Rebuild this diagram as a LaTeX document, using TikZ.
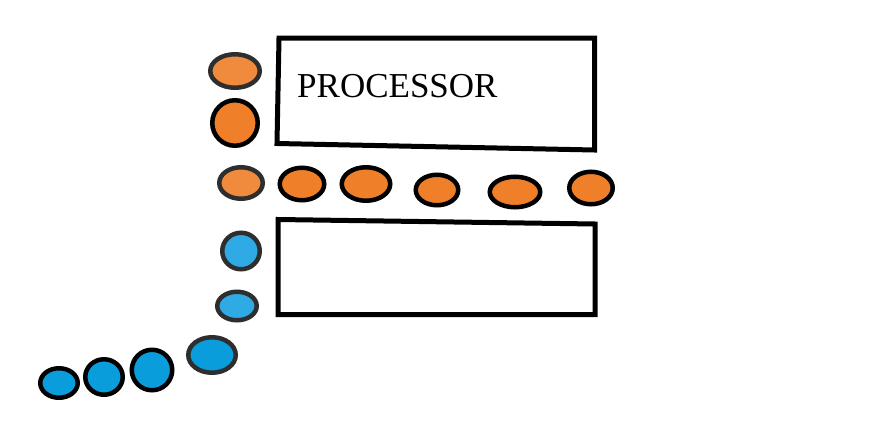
\documentclass[tikz,border=0pt]{standalone}
\usepackage{fontspec}
\setmainfont{Liberation Serif}
\usetikzlibrary{shapes.geometric}
\definecolor{orng}{HTML}{F07F2A}
\definecolor{orngl}{HTML}{F08A3C}
\definecolor{blu}{HTML}{0A9DDC}
\definecolor{blul}{HTML}{30AAE4}
\definecolor{dk}{HTML}{2E2E2E}
\tikzset{
  dot/.style={ellipse, draw=black, line width=4.5pt, inner sep=0pt},
  odot/.style={dot, fill=orng},
  bdot/.style={dot, fill=blu},
  boxline/.style={line width=5pt, line cap=round, line join=miter},
  label/.style={anchor=base west, inner sep=0pt, font=\fontsize{35}{40}\selectfont}
}
\begin{document}
\begin{tikzpicture}[x=1pt,y=-1pt]
\useasboundingbox[fill=white] (0,0) rectangle (895,423);
% processor box
\coordinate (p1) at (279,38);
\coordinate (p2) at (594.5,38);
\coordinate (p3) at (594.5,150);
\coordinate (p4) at (277,143.5);
\draw[boxline] (p4) -- (p1) -- (p2) -- (p3) -- cycle;
\node[label] (proc) at (297,97) {PROCESSOR};
% lower box
\coordinate (q1) at (278,219.5);
\coordinate (q2) at (595,224);
\coordinate (q3) at (595,314.5);
\coordinate (q4) at (278,314.5);
\draw[boxline] (q1) -- (q2) -- (q3) -- (q4) -- cycle;
% orange dots
\node[odot, fill=orngl, draw=dk, minimum width=49.5pt, minimum height=33.5pt] (o1) at (235,71) {};
\node[odot, minimum width=45.5pt, minimum height=45.5pt] (o2) at (235,123) {};
\node[odot, fill=orngl, draw=dk, minimum width=43.5pt, minimum height=31.5pt] (o3) at (241,183) {};
\node[odot, minimum width=44.5pt, minimum height=32.5pt] (o4) at (302,184) {};
\node[odot, minimum width=48.5pt, minimum height=33.5pt] (o5) at (366,184) {};
\node[odot, minimum width=42.5pt, minimum height=30.5pt] (o6) at (437,190) {};
\node[odot, minimum width=50.5pt, minimum height=30.5pt] (o7) at (515,192) {};
\node[odot, minimum width=43.5pt, minimum height=32.5pt] (o8) at (591,188) {};
% blue dots
\node[bdot, fill=blul, draw=dk, minimum width=37.5pt, minimum height=36.5pt] (b1) at (241,251) {};
\node[bdot, fill=blul, draw=dk, minimum width=39.5pt, minimum height=28.5pt] (b2) at (237,306) {};
\node[bdot, draw=dk, minimum width=47.5pt, minimum height=35.5pt] (b3) at (212,355) {};
\node[bdot, minimum width=40.5pt, minimum height=40.5pt] (b4) at (152,370) {};
\node[bdot, minimum width=37.5pt, minimum height=35.5pt] (b5) at (104,377) {};
\node[bdot, minimum width=37.5pt, minimum height=29.5pt] (b6) at (59,383) {};
\end{tikzpicture}
\end{document}
